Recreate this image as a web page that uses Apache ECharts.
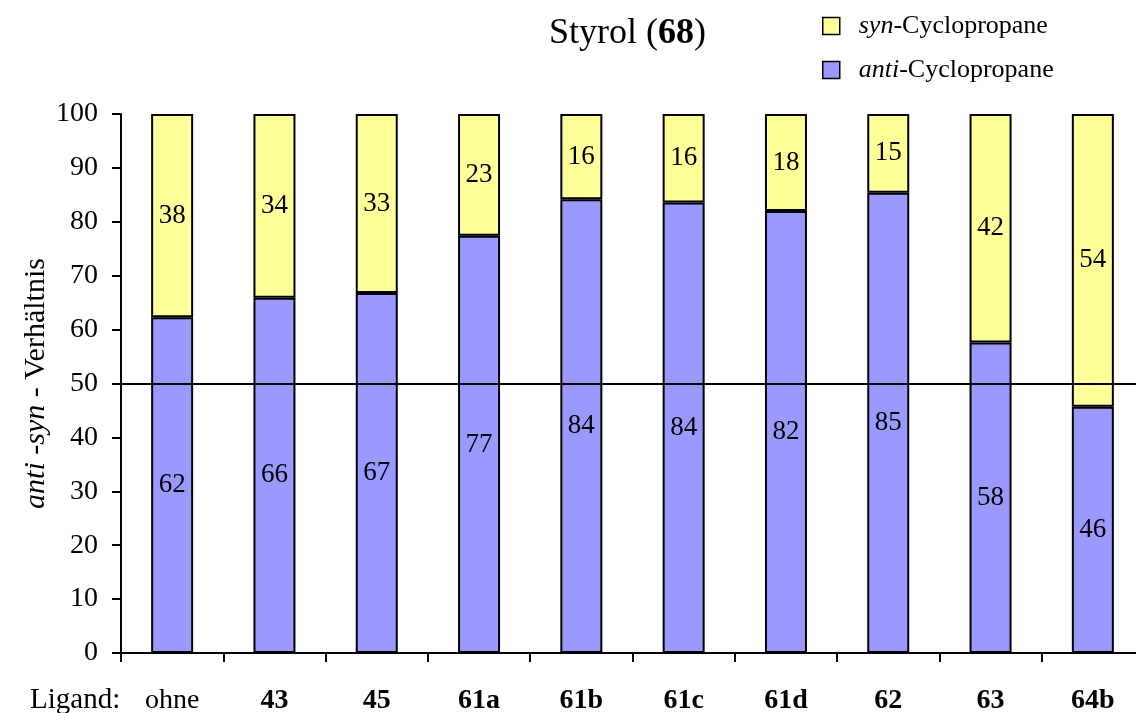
<!DOCTYPE html>
<html>
<head>
<meta charset="utf-8">
<script src="https://cdn.jsdelivr.net/npm/echarts@6/dist/echarts.min.js"></script>
<style>
  html, body { margin: 0; padding: 0; background: #fff; }
  #chart { width: 1136px; height: 713px; }
</style>
</head>
<body>
<div id="chart"></div>
<script>
const ligands = ['ohne', '43', '45', '61a', '61b', '61c', '61d', '62', '63', '64b'];
const antiShare = [62.3, 65.9, 66.8, 77.4, 84.2, 83.6, 82.0, 85.4, 57.6, 45.7];
const synShare = [37.7, 34.1, 33.2, 22.6, 15.8, 16.4, 18.0, 14.6, 42.4, 54.3];
const yTicks = [0, 10, 20, 30, 40, 50, 60, 70, 80, 90, 100];
const refLine = 50;

const FONT = '"Liberation Serif", "Times New Roman", serif';

const chart = echarts.init(document.getElementById('chart'), null, { renderer: 'canvas' });

const labelStyle = {
  show: true,
  position: 'inside',
  color: '#000',
  fontFamily: FONT,
  fontSize: 27,
  formatter: p => Math.round(p.value)
};

let option = {
  animation: false,
  backgroundColor: '#fff',
  title: {
    text: '{n|Styrol (}{b|68}{n|)}',
    left: 549,
    top: 16,
    padding: 0,
    textStyle: {
      fontWeight: 'normal',
      rich: {
        n: { fontFamily: FONT, fontSize: 36, fontWeight: 'normal', color: '#000' },
        b: { fontFamily: FONT, fontSize: 36, fontWeight: 'bold', color: '#000' }
      }
    }
  },
  legend: {
    data: ['syn', 'anti'],
    orient: 'vertical',
    left: 822,
    top: 13,
    padding: 0,
    itemWidth: 17,
    itemHeight: 17,
    itemGap: 18,
    icon: 'rect',
    itemStyle: { borderColor: '#000', borderWidth: 1.5 },
    formatter: name => '{i|' + name + '}{n|-Cyclopropane}',
    textStyle: {
      padding: [0, 0, 0, 14],
      rich: {
        i: { fontFamily: FONT, fontSize: 26, fontStyle: 'italic', color: '#000' },
        n: { fontFamily: FONT, fontSize: 26, color: '#000' }
      }
    }
  },
  grid: {
    left: 121,
    width: 1023,
    top: 114,
    bottom: 60,
    outerBoundsMode: 'none'
  },
  xAxis: {
    type: 'category',
    data: ligands,
    axisLine: { lineStyle: { color: '#000', width: 2 } },
    axisTick: { show: true, length: 9, lineStyle: { color: '#000', width: 2 } },
    axisLabel: {
      margin: 34,
      formatter: v => v === 'ohne' ? '{n|' + v + '}' : '{b|' + v + '}',
      rich: {
        n: { fontFamily: FONT, fontSize: 28, color: '#000' },
        b: { fontFamily: FONT, fontSize: 28, fontWeight: 'bold', color: '#000' }
      }
    }
  },
  yAxis: {
    type: 'value',
    min: yTicks[0],
    max: yTicks[yTicks.length - 1],
    interval: 10,
    name: '{i|anti} -{i|syn} - Verhältnis',
    nameLocation: 'middle',
    nameRotate: 90,
    nameGap: 70,
    nameMoveOverlap: false,
    nameTextStyle: {
      rich: {
        i: { fontFamily: FONT, fontSize: 30, fontStyle: 'italic', color: '#000' }
      },
      fontFamily: FONT,
      fontSize: 30,
      color: '#000'
    },
    axisLine: { show: true, lineStyle: { color: '#000', width: 2 } },
    axisTick: { show: true, length: 9, lineStyle: { color: '#000', width: 2 } },
    splitLine: { show: false },
    axisLabel: {
      margin: 23,
      fontFamily: FONT,
      fontSize: 28,
      color: '#000'
    }
  },
  graphic: [{
    type: 'text',
    left: 30,
    top: 686,
    style: { text: 'Ligand:', fontFamily: FONT, fontSize: 29, fill: '#000' }
  }],
  series: [
    {
      name: 'anti',
      type: 'bar',
      stack: 'ratio',
      data: antiShare,
      barWidth: 42,
      itemStyle: { color: '#9999FF', borderColor: '#000', borderWidth: 2 },
      label: labelStyle,
      markLine: {
        silent: true,
        symbol: 'none',
        label: { show: false },
        lineStyle: { color: '#000', width: 2, type: 'solid' },
        data: [{ yAxis: refLine }]
      },
      z: 2
    },
    {
      name: 'syn',
      type: 'bar',
      stack: 'ratio',
      data: synShare,
      barWidth: 42,
      itemStyle: { color: '#FFFF99', borderColor: '#000', borderWidth: 2 },
      label: labelStyle,
      z: 2
    }
  ]
};

chart.setOption(option);
</script>
</body>
</html>
